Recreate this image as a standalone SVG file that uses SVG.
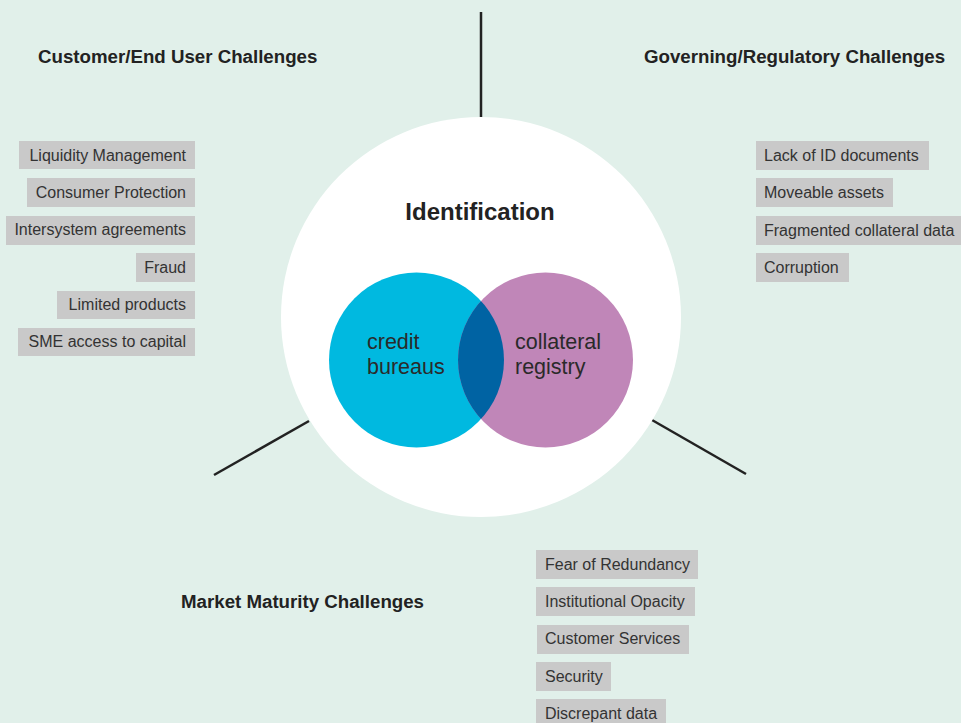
<svg xmlns="http://www.w3.org/2000/svg" width="961" height="723" viewBox="0 0 961 723">
<style>
.box{fill:#c9c9c9}
.bt{font-family:"Liberation Sans",Arial,sans-serif;font-size:16px;fill:#333}
.r{text-anchor:end}
.hd{font-family:"Liberation Sans",Arial,sans-serif;font-size:18.7px;font-weight:bold;fill:#222}
.ct{font-family:"Liberation Sans",Arial,sans-serif;font-size:21.5px;fill:#2a2a2a}
.ln{stroke:#222;stroke-width:2.5;fill:none}
</style>
<rect width="961" height="723" fill="#e1f0ea"/>
<g id="connectors">
<line class="ln" x1="481" y1="12" x2="481" y2="124"/>
<line class="ln" x1="214" y1="475" x2="309" y2="421"/>
<line class="ln" x1="652" y1="420" x2="746" y2="474"/>
</g>
<g id="center">
<circle cx="481" cy="317" r="200" fill="#fff"/>
<text x="480" y="220" text-anchor="middle" font-family="Liberation Sans,Arial,sans-serif" font-size="24" font-weight="bold" fill="#222">Identification</text>
</g>
<g id="venn">
<defs><clipPath id="cb"><circle cx="416.5" cy="360" r="87.5"/></clipPath></defs>
<circle cx="416.5" cy="360" r="87.5" fill="#00b9e0"/>
<circle cx="545.5" cy="360" r="87.5" fill="#c086b8"/>
<circle cx="545.5" cy="360" r="87.5" fill="#0063a3" clip-path="url(#cb)"/>
<text class="ct" x="367" y="349">credit</text>
<text class="ct" x="367" y="374">bureaus</text>
<text class="ct" x="515" y="349">collateral</text>
<text class="ct" x="515" y="374">registry</text>
</g>
<g id="customer">
<text class="hd" x="38" y="63">Customer/End User Challenges</text>
<rect class="box" x="19" y="141" width="176" height="28"/><text class="bt r" x="186" y="161">Liquidity Management</text>
<rect class="box" x="27" y="178" width="168" height="29"/><text class="bt r" x="186" y="198">Consumer Protection</text>
<rect class="box" x="6" y="216" width="189" height="29"/><text class="bt r" x="186" y="235">Intersystem agreements</text>
<rect class="box" x="136" y="253" width="59" height="29"/><text class="bt r" x="186" y="273">Fraud</text>
<rect class="box" x="57" y="291" width="138" height="28"/><text class="bt r" x="186" y="310">Limited products</text>
<rect class="box" x="18" y="328" width="177" height="28"/><text class="bt r" x="186" y="347">SME access to capital</text>
</g>
<g id="governing">
<text class="hd" x="644" y="63">Governing/Regulatory Challenges</text>
<rect class="box" x="756" y="141" width="173" height="29"/><text class="bt" x="764" y="161">Lack of ID documents</text>
<rect class="box" x="756" y="178" width="137" height="29"/><text class="bt" x="764" y="198">Moveable assets</text>
<rect class="box" x="756" y="216" width="205" height="29"/><text class="bt" x="764" y="236">Fragmented collateral data</text>
<rect class="box" x="756" y="253" width="93" height="29"/><text class="bt" x="764" y="273">Corruption</text>
</g>
<g id="market">
<text class="hd" x="181" y="608">Market Maturity Challenges</text>
<rect class="box" x="536" y="550" width="162" height="29"/><text class="bt" x="545" y="570">Fear of Redundancy</text>
<rect class="box" x="536" y="587" width="159" height="29"/><text class="bt" x="545" y="607">Institutional Opacity</text>
<rect class="box" x="537" y="625" width="152" height="29"/><text class="bt" x="545" y="644">Customer Services</text>
<rect class="box" x="536" y="662" width="75" height="29"/><text class="bt" x="545" y="682">Security</text>
<rect class="box" x="536" y="699" width="130" height="29"/><text class="bt" x="545" y="719">Discrepant data</text>
</g>
</svg>
